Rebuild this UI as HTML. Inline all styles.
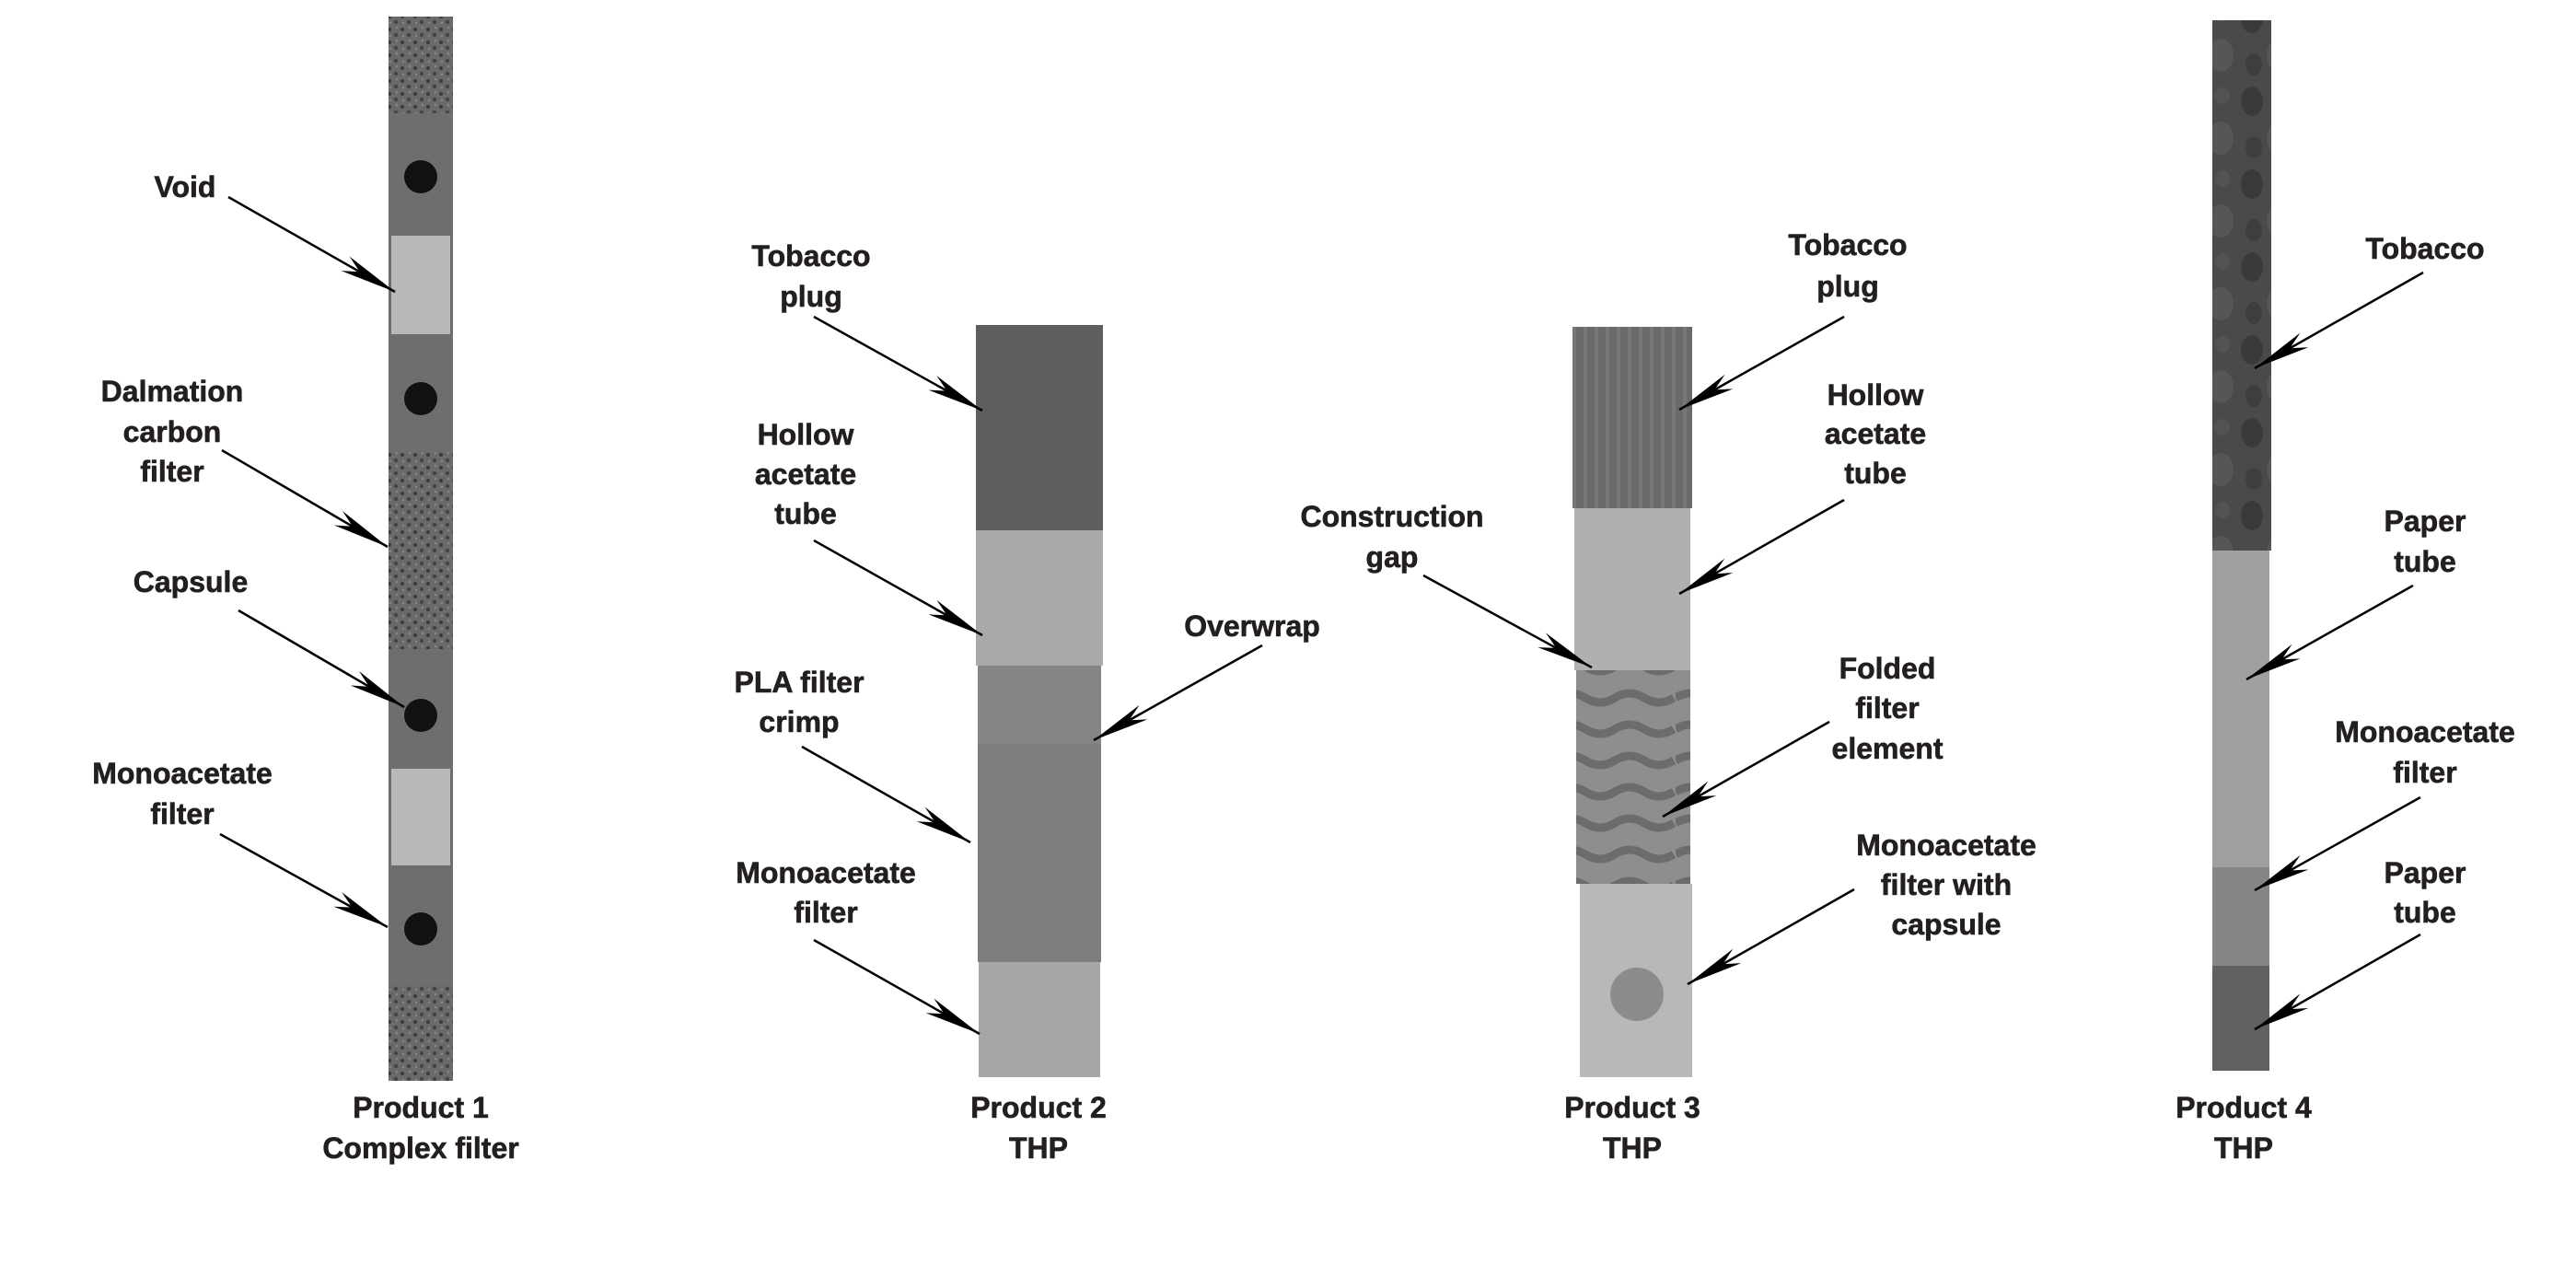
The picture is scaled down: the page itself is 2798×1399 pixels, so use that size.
<!DOCTYPE html>
<html><head><meta charset="utf-8"><style>
html,body{margin:0;padding:0;background:#fff;}
svg{display:block;}
text{font-family:"Liberation Sans",Arial,sans-serif;font-weight:bold;font-size:32px;fill:#231f20;stroke:#231f20;stroke-width:0.6px;text-anchor:middle;}
</style></head><body>
<svg width="2798" height="1399" viewBox="0 0 2798 1399" xmlns="http://www.w3.org/2000/svg">
<defs>
<marker id="ah" markerUnits="userSpaceOnUse" markerWidth="80" markerHeight="30" refX="0" refY="0" viewBox="-70 -15 80 30" orient="auto" overflow="visible">
<path d="M0,0 L-62,-9 L-44,0 L-62,9 Z" fill="#000"/>
</marker>
<pattern id="speck" width="14" height="14" patternUnits="userSpaceOnUse">
<rect width="14" height="14" fill="#6a6a6a"/>
<circle cx="3" cy="4" r="2" fill="#3a3a3a"/><circle cx="10" cy="10" r="2.2" fill="#444"/><circle cx="11" cy="2" r="1.3" fill="#888"/><circle cx="4" cy="11" r="1.2" fill="#888"/>
</pattern>
<pattern id="tob" width="64" height="90" patternUnits="userSpaceOnUse">
<rect width="64" height="90" fill="#4a4a4a"/>
<ellipse cx="14" cy="20" rx="12" ry="16" fill="#3a3a3a"/><ellipse cx="44" cy="60" rx="14" ry="18" fill="#565656"/><ellipse cx="46" cy="14" rx="8" ry="9" fill="#535353"/><ellipse cx="16" cy="70" rx="9" ry="12" fill="#3e3e3e"/>
</pattern>
<pattern id="fold" width="130" height="34" patternUnits="userSpaceOnUse">
<rect width="130" height="34" fill="#8e8e8e"/>
<path d="M0,10 Q16,0 32,10 T64,10 T96,10 T128,10" stroke="#6c6c6c" stroke-width="9" fill="none"/>
</pattern>
<pattern id="str" width="12" height="10" patternUnits="userSpaceOnUse">
<rect width="12" height="10" fill="#6a6a6a"/><rect x="4" width="4" height="10" fill="#777"/>
</pattern>
</defs>

<!-- Product 1 -->
<rect x="422" y="18" width="70" height="1156" fill="#6e6e6e"/>
<rect x="422" y="18" width="70" height="105" fill="url(#speck)"/>
<rect x="425" y="256" width="64" height="107" fill="#b8b8b8"/>
<rect x="422" y="491" width="70" height="214" fill="url(#speck)"/>
<rect x="425" y="835" width="64" height="105" fill="#b8b8b8"/>
<rect x="422" y="1071" width="70" height="103" fill="url(#speck)"/>
<circle cx="457" cy="192" r="18" fill="#111"/>
<circle cx="457" cy="433" r="18" fill="#111"/>
<circle cx="457" cy="777" r="18" fill="#111"/>
<circle cx="457" cy="1009" r="18" fill="#111"/>

<!-- Product 2 -->
<rect x="1060" y="353" width="138" height="223" fill="#5e5e5e"/>
<rect x="1060" y="576" width="138" height="147" fill="#a9a9a9"/>
<rect x="1062" y="723" width="134" height="85" fill="#858585"/>
<rect x="1062" y="808" width="134" height="237" fill="#7d7d7d"/>
<rect x="1063" y="1045" width="132" height="125" fill="#a6a6a6"/>

<!-- Product 3 -->
<rect x="1708" y="355" width="130" height="197" fill="url(#str)"/>
<rect x="1710" y="552" width="126" height="176" fill="#b0b0b0"/>
<rect x="1712" y="728" width="124" height="232" fill="url(#fold)"/>
<rect x="1716" y="960" width="122" height="210" fill="#b8b8b8"/>
<circle cx="1778" cy="1080" r="29" fill="#8c8c8c"/>

<!-- Product 4 -->
<rect x="2403" y="22" width="64" height="576" fill="url(#tob)"/>
<rect x="2403" y="598" width="62" height="344" fill="#a0a0a0"/>
<rect x="2403" y="942" width="62" height="107" fill="#858585"/>
<rect x="2403" y="1049" width="62" height="114" fill="#606060"/>

<!-- arrows -->
<g stroke="#000" stroke-width="2.5" marker-end="url(#ah)">
<line x1="248" y1="214" x2="429" y2="317"/>
<line x1="241" y1="489" x2="421" y2="594"/>
<line x1="259" y1="663" x2="439" y2="768"/>
<line x1="239" y1="906" x2="421" y2="1007"/>
<line x1="884" y1="344" x2="1067" y2="446"/>
<line x1="884" y1="587" x2="1067" y2="690"/>
<line x1="871" y1="811" x2="1054" y2="915"/>
<line x1="884" y1="1021" x2="1064" y2="1123"/>
<line x1="1371" y1="701" x2="1188" y2="804"/>
<line x1="2003" y1="344" x2="1824" y2="445"/>
<line x1="2003" y1="543" x2="1824" y2="645"/>
<line x1="1546" y1="625" x2="1729" y2="725"/>
<line x1="1987" y1="784" x2="1806" y2="887"/>
<line x1="2014" y1="966" x2="1833" y2="1069"/>
<line x1="2632" y1="296" x2="2449" y2="400"/>
<line x1="2621" y1="636" x2="2440" y2="738"/>
<line x1="2629" y1="866" x2="2449" y2="967"/>
<line x1="2629" y1="1015" x2="2449" y2="1118"/>
</g>

<!-- labels -->
<text x="201" y="214">Void</text>
<text x="187" y="436">Dalmation</text><text x="187" y="480">carbon</text><text x="187" y="523">filter</text>
<text x="207" y="643">Capsule</text>
<text x="198" y="851">Monoacetate</text><text x="198" y="895">filter</text>
<text x="457" y="1214">Product 1</text><text x="457" y="1258">Complex filter</text>

<text x="881" y="289">Tobacco</text><text x="881" y="333">plug</text>
<text x="875" y="483">Hollow</text><text x="875" y="526">acetate</text><text x="875" y="569">tube</text>
<text x="868" y="752">PLA filter</text><text x="868" y="795">crimp</text>
<text x="897" y="959">Monoacetate</text><text x="897" y="1002">filter</text>
<text x="1360" y="691">Overwrap</text>
<text x="1128" y="1214">Product 2</text><text x="1128" y="1258">THP</text>

<text x="2007" y="277">Tobacco</text><text x="2007" y="322">plug</text>
<text x="2037" y="440">Hollow</text><text x="2037" y="482">acetate</text><text x="2037" y="525">tube</text>
<text x="1512" y="572">Construction</text><text x="1512" y="616">gap</text>
<text x="2050" y="737">Folded</text><text x="2050" y="780">filter</text><text x="2050" y="824">element</text>
<text x="2114" y="929">Monoacetate</text><text x="2114" y="972">filter with</text><text x="2114" y="1015">capsule</text>
<text x="1773" y="1214">Product 3</text><text x="1773" y="1258">THP</text>

<text x="2634" y="281">Tobacco</text>
<text x="2634" y="577">Paper</text><text x="2634" y="621">tube</text>
<text x="2634" y="806">Monoacetate</text><text x="2634" y="850">filter</text>
<text x="2634" y="959">Paper</text><text x="2634" y="1002">tube</text>
<text x="2437" y="1214">Product 4</text><text x="2437" y="1258">THP</text>
</svg>
</body></html>
